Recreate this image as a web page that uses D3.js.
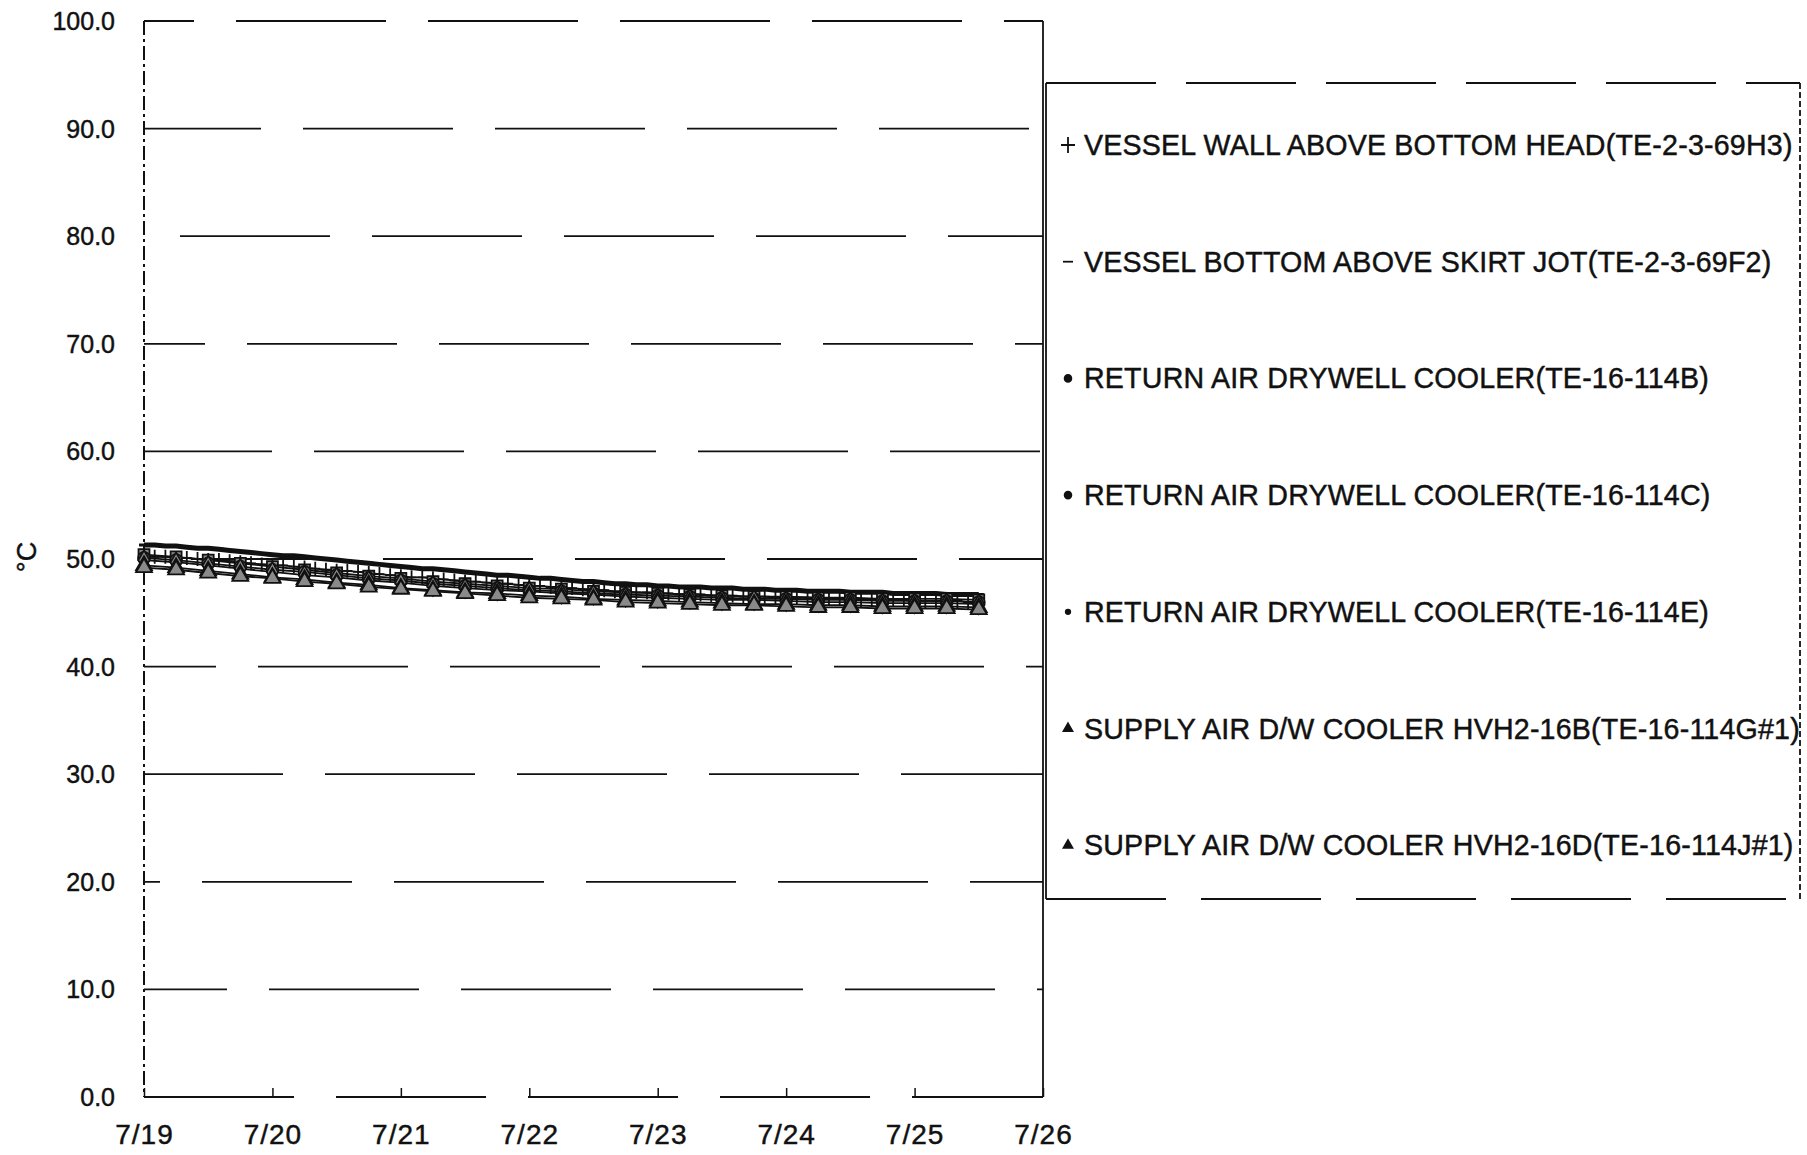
<!DOCTYPE html>
<html>
<head>
<meta charset="utf-8">
<script src="https://cdn.jsdelivr.net/npm/d3@7"></script>
<style>
  body { margin: 0; background: #fff; }
  svg { display: block; }
  text { font-family: "Liberation Sans", Arial, sans-serif; fill: #111; stroke: #111; stroke-width: 0.45px; }
</style>
</head>
<body>
<svg id="chart" width="1807" height="1155"></svg>
<script>
// day labels on the x axis, one per 24 h
const dayLabels = ['7/19', '7/20', '7/21', '7/22', '7/23', '7/24', '7/25', '7/26']
const yTicks = [0, 10, 20, 30, 40, 50, 60, 70, 80, 90, 100]

// sample times (hours after 7/19 0:00)
const hours2 = d3.range(0, 157, 2)
const hours6 = d3.range(0, 157, 6)

// TE-2-3-69H3, every 2 h
const h3 = [
  50.3, 50.2, 50.2, 50.1, 50.1, 50.0, 49.9, 49.9, 49.8, 49.7, 49.6, 49.5,
  49.4, 49.4, 49.3, 49.2, 49.1, 49.0, 48.9, 48.9, 48.8, 48.7, 48.6, 48.5,
  48.4, 48.3, 48.3, 48.2, 48.1, 48.0, 47.9, 47.9, 47.8, 47.7, 47.7, 47.6,
  47.5, 47.5, 47.4, 47.3, 47.3, 47.2, 47.1, 47.1, 47.0, 47.0, 46.9, 46.9,
  46.8, 46.8, 46.7, 46.7, 46.7, 46.6, 46.6, 46.6, 46.5, 46.5, 46.5, 46.4,
  46.4, 46.4, 46.4, 46.3, 46.3, 46.3, 46.3, 46.2, 46.2, 46.2, 46.2, 46.2,
  46.1, 46.1, 46.1, 46.1, 46.1, 46.0, 46.0
]
// TE-2-3-69F2, every 2 h
const f2 = [
  51.3, 51.3, 51.2, 51.2, 51.1, 51.0, 51.0, 50.9, 50.8, 50.7, 50.6, 50.5,
  50.4, 50.3, 50.3, 50.2, 50.1, 50.0, 49.9, 49.8, 49.7, 49.6, 49.5, 49.4,
  49.3, 49.2, 49.1, 49.1, 49.0, 48.9, 48.8, 48.7, 48.6, 48.5, 48.5, 48.4,
  48.3, 48.2, 48.2, 48.1, 48.0, 47.9, 47.9, 47.8, 47.7, 47.7, 47.6, 47.6,
  47.5, 47.5, 47.4, 47.4, 47.4, 47.3, 47.3, 47.3, 47.2, 47.2, 47.2, 47.1,
  47.1, 47.1, 47.0, 47.0, 47.0, 47.0, 46.9, 46.9, 46.9, 46.9, 46.8, 46.8,
  46.8, 46.8, 46.8, 46.7, 46.7, 46.7, 46.7
]
// drywell cooler sensors, every 6 h
const te114B = [50.4, 50.2, 49.9, 49.6, 49.3, 49.0, 48.7, 48.4, 48.2, 47.9, 47.7, 47.5, 47.3, 47.2, 47.0, 46.9, 46.8, 46.7, 46.6, 46.5, 46.5, 46.4, 46.4, 46.3, 46.3, 46.3, 46.2]
const te114C = [50.1, 49.9, 49.6, 49.3, 49.0, 48.8, 48.5, 48.2, 48.0, 47.7, 47.5, 47.3, 47.1, 47.0, 46.8, 46.7, 46.6, 46.5, 46.4, 46.3, 46.3, 46.2, 46.2, 46.1, 46.1, 46.1, 46.0]
const te114E = [49.9, 49.7, 49.4, 49.1, 48.8, 48.5, 48.3, 48.0, 47.8, 47.5, 47.3, 47.1, 47.0, 46.8, 46.7, 46.5, 46.4, 46.3, 46.2, 46.2, 46.1, 46.0, 46.0, 45.9, 45.9, 45.9, 45.8]
const te114G = [49.4, 49.2, 48.9, 48.6, 48.3, 48.1, 47.8, 47.6, 47.3, 47.1, 46.9, 46.8, 46.6, 46.5, 46.3, 46.2, 46.1, 46.0, 45.9, 45.8, 45.8, 45.7, 45.7, 45.6, 45.6, 45.6, 45.5]
const te114J = [49.2, 49.0, 48.7, 48.4, 48.2, 47.9, 47.7, 47.4, 47.2, 47.0, 46.8, 46.6, 46.4, 46.3, 46.2, 46.0, 45.9, 45.8, 45.7, 45.7, 45.6, 45.5, 45.5, 45.4, 45.4, 45.4, 45.3]

const seriesNames = [
  'VESSEL WALL ABOVE BOTTOM HEAD(TE-2-3-69H3)',
  'VESSEL BOTTOM ABOVE SKIRT JOT(TE-2-3-69F2)',
  'RETURN AIR DRYWELL COOLER(TE-16-114B)',
  'RETURN AIR DRYWELL COOLER(TE-16-114C)',
  'RETURN AIR DRYWELL COOLER(TE-16-114E)',
  'SUPPLY AIR D/W COOLER HVH2-16B(TE-16-114G#1)',
  'SUPPLY AIR D/W COOLER HVH2-16D(TE-16-114J#1)'
]
const seriesValues = [h3, f2, te114B, te114C, te114E, te114G, te114J]
const seriesHours = [hours2, hours2, hours6, hours6, hours6, hours6, hours6]
const markerKind = ['plus', 'dash', 'square', 'circle', 'diamond', 'triangle', 'triangle']

const ink = '#111'
const svg = d3.select('#chart')
const plotL = 144, plotR = 1043, plotT = 21, plotB = 1097

const x = d3.scaleLinear().domain([0, 168]).range([plotL, plotR])
const y = d3.scaleLinear().domain([0, 100]).range([plotB, plotT])

// horizontal grid, broken up like the scan
svg.append('g')
  .selectAll('line')
  .data(yTicks)
  .enter()
  .append('line')
  .attr('x1', plotL)
  .attr('x2', plotR)
  .attr('y1', d => y(d))
  .attr('y2', d => y(d))
  .attr('stroke', ink)
  .attr('stroke-width', 1.8)
  .attr('stroke-dasharray', '150,42')
  .attr('stroke-dashoffset', (d, i) => (i * 67) % 190)

// left axis (dotted) and right border
svg.append('line')
  .attr('x1', plotL).attr('x2', plotL).attr('y1', plotT).attr('y2', plotB)
  .attr('stroke', ink).attr('stroke-width', 2).attr('stroke-dasharray', '14,4,3,4')
svg.append('line')
  .attr('x1', plotR).attr('x2', plotR).attr('y1', plotT).attr('y2', plotB)
  .attr('stroke', ink).attr('stroke-width', 1.8)

// y labels
svg.append('g')
  .selectAll('text')
  .data(yTicks)
  .enter()
  .append('text')
  .attr('x', 115)
  .attr('y', d => y(d))
  .attr('text-anchor', 'end')
  .attr('dominant-baseline', 'central')
  .attr('font-size', 25)
  .text(d => d3.format('.1f')(d))

svg.append('text')
  .attr('transform', 'translate(27,557) rotate(-90)')
  .attr('text-anchor', 'middle')
  .attr('dominant-baseline', 'central')
  .attr('font-size', 27)
  .text('°C')

// x axis ticks and labels
const xAxis = d3.axisBottom(x)
  .tickValues(dayLabels.map((d, i) => i * 24))
  .tickFormat((d, i) => dayLabels[i])
  .tickSize(-9)
  .tickPadding(27)
const gx = svg.append('g').attr('transform', `translate(0,${plotB})`).call(xAxis)
gx.select('.domain').remove()
gx.selectAll('line').attr('stroke', ink).attr('stroke-width', 1.5)
gx.selectAll('text')
  .attr('font-size', 28)
  .attr('letter-spacing', 1)
  .attr('font-family', '"Liberation Sans", Arial, sans-serif')
  .attr('fill', ink)

// marker shapes
const markerPath = {
  plus: 'M-5,0H5M0,-7V7',
  dash: 'M-5,0H5',
  square: d3.symbol(d3.symbolSquare, 120)(),
  circle: d3.symbol(d3.symbolCircle, 110)(),
  diamond: d3.symbol(d3.symbolDiamond, 110)(),
  triangle: d3.symbol(d3.symbolTriangle, 110)()
}

const line = d3.line()
  .x(d => x(d[0]))
  .y(d => y(d[1]))

const series = seriesValues.map((vals, i) => ({
  name: seriesNames[i],
  kind: markerKind[i],
  points: vals.map((v, j) => [seriesHours[i][j], v])
}))

const gs = svg.append('g')
  .selectAll('g')
  .data(series)
  .enter()
  .append('g')

gs.append('path')
  .attr('d', d => line(d.points))
  .attr('fill', 'none')
  .attr('stroke', ink)
  .attr('stroke-width', d => d.kind === 'dash' ? 5 : 1.8)

gs.selectAll('path.mk')
  .data(d => d.points.map(p => ({ p, kind: d.kind })))
  .enter()
  .append('path')
  .attr('class', 'mk')
  .attr('transform', d => `translate(${x(d.p[0])},${y(d.p[1])})`)
  .attr('d', d => markerPath[d.kind])
  .attr('fill', d => (d.kind === 'plus' || d.kind === 'dash') ? 'none' : '#8a8a8a')
  .attr('stroke', ink)
  .attr('stroke-width', d => d.kind === 'dash' ? 3 : 1.8)

// legend box
const lg = { l: 1046, t: 83, r: 1800, b: 899 }
const box = svg.append('g').attr('fill', 'none').attr('stroke', ink)
box.append('line').attr('x1', lg.l).attr('x2', lg.r).attr('y1', lg.t).attr('y2', lg.t)
  .attr('stroke-width', 1.8).attr('stroke-dasharray', '110,30')
box.append('line').attr('x1', lg.l).attr('x2', lg.r).attr('y1', lg.b).attr('y2', lg.b)
  .attr('stroke-width', 1.8).attr('stroke-dasharray', '120,35')
box.append('line').attr('x1', lg.l).attr('x2', lg.l).attr('y1', lg.t).attr('y2', lg.b)
  .attr('stroke-width', 1.8)
box.append('line').attr('x1', lg.r).attr('x2', lg.r).attr('y1', lg.t).attr('y2', lg.b)
  .attr('stroke-width', 1.8).attr('stroke-dasharray', '6,3')

const legendMarker = {
  plus: 'M-7,0H7M0,-8V8',
  dash: 'M-5,0H5',
  square: d3.symbol(d3.symbolCircle, 36)(),
  circle: d3.symbol(d3.symbolCircle, 36)(),
  diamond: d3.symbol(d3.symbolCircle, 16)(),
  triangle: d3.symbol(d3.symbolTriangle, 34)()
}

const items = svg.append('g')
  .selectAll('g')
  .data(series)
  .enter()
  .append('g')
  .attr('transform', (d, i) => `translate(0,${145 + i * 116.7})`)

items.append('path')
  .attr('transform', 'translate(1068,0)')
  .attr('d', d => legendMarker[d.kind])
  .attr('fill', d => (d.kind === 'plus' || d.kind === 'dash') ? 'none' : ink)
  .attr('stroke', ink)
  .attr('stroke-width', 1.8)

items.append('text')
  .attr('x', 1084)
  .attr('dominant-baseline', 'central')
  .attr('font-size', 28.6)
  .attr('letter-spacing', 0.2)
  .text(d => d.name)
</script>
</body>
</html>
